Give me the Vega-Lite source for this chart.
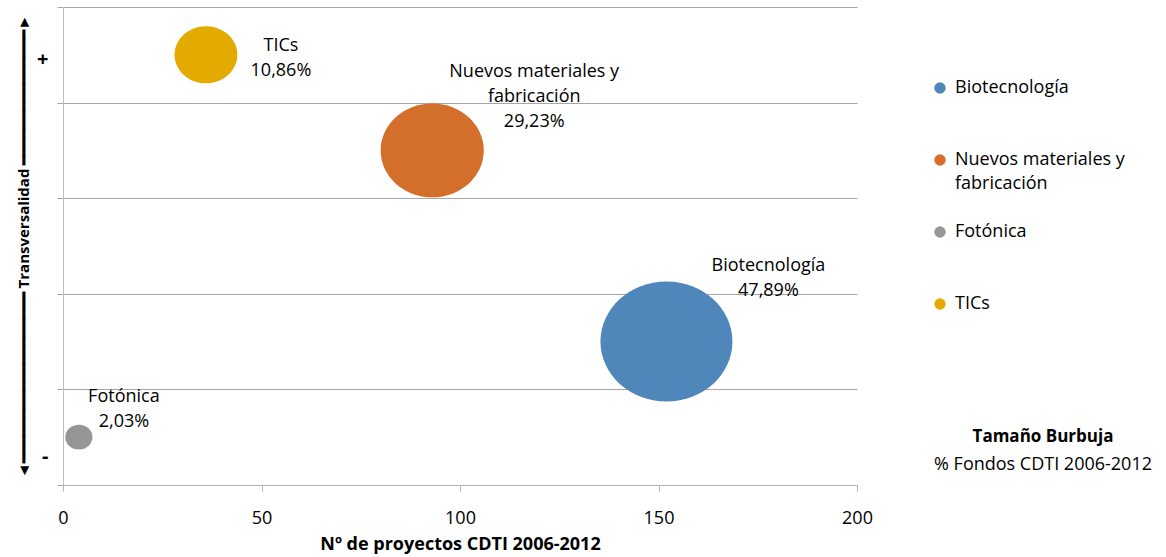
{
  "$schema": "https://vega.github.io/schema/vega-lite/v6.json",
  "width": 794,
  "height": 478,
  "autosize": {"type": "none"},
  "padding": {"left": 63, "top": 7, "right": 309, "bottom": 72},
  "background": "white",
  "config": {
    "view": {"stroke": null},
    "font": "Open Sans",
    "style": {"guide-label": {"lineHeight": 24}}
  },
  "title": {
    "text": "Tamaño Burbuja",
    "subtitle": "% Fondos CDTI 2006-2012",
    "orient": "top",
    "anchor": "end",
    "frame": "group",
    "align": "center",
    "dx": 186,
    "dy": 482,
    "font": "Open Sans",
    "fontSize": 17,
    "fontWeight": "bold",
    "color": "#000000",
    "subtitleFont": "Open Sans",
    "subtitleFontSize": 18,
    "subtitleColor": "#000000",
    "subtitlePadding": 10
  },
  "data": {
    "values": [
      {"area": "Biotecnología", "proyectos": 152, "transversalidad": 1.5, "fondos": 47.89},
      {"area": "Nuevos materiales y fabricación", "proyectos": 93, "transversalidad": 3.5, "fondos": 29.23},
      {"area": "Fotónica", "proyectos": 4, "transversalidad": 0.5, "fondos": 2.03},
      {"area": "TICs", "proyectos": 36, "transversalidad": 4.5, "fondos": 10.86}
    ]
  },
  "transform": [
    {"calculate": "replace(datum.area, ' y ', ' y\\n') + '\\n' + replace(format(datum.fondos, '.2f'), '.', ',') + '%'", "as": "etiqueta"}
  ],
  "encoding": {
    "x": {
      "field": "proyectos",
      "type": "quantitative",
      "scale": {"domain": [0, 200], "nice": false},
      "axis": {
        "values": [0, 50, 100, 150, 200],
        "grid": false,
        "domainColor": "#b3b3b3",
        "tickColor": "#b3b3b3",
        "tickSize": 6,
        "labelFlush": false,
        "labelFont": "Open Sans",
        "labelFontSize": 18,
        "labelColor": "#000000",
        "labelPadding": 18,
        "title": "Nº de proyectos CDTI 2006-2012",
        "titleFont": "Open Sans",
        "titleFontSize": 18,
        "titleFontWeight": "bold",
        "titleColor": "#000000",
        "titlePadding": 8
      }
    },
    "y": {
      "field": "transversalidad",
      "type": "quantitative",
      "scale": {"domain": [0, 5], "nice": false},
      "axis": {
        "values": [0, 0.3, 1, 2, 3, 4, 4.45, 5],
        "grid": true,
        "gridColor": "#a6a6a6",
        "gridOpacity": {"condition": {"test": "datum.value % 1 != 0", "value": 0}, "value": 1},
        "tickOpacity": {"condition": {"test": "datum.value % 1 != 0", "value": 0}, "value": 1},
        "domainColor": "#bfbfbf",
        "tickColor": "#a6a6a6",
        "tickSize": 6,
        "labelExpr": "datum.value == 4.45 ? '+' : (datum.value == 0.3 ? '-' : '')",
        "labelOverlap": false,
        "labelFont": "Open Sans",
        "labelFontSize": 20,
        "labelFontWeight": "bold",
        "labelColor": "#000000",
        "labelPadding": 9,
        "title": "◄━━━━━━━━━━━━━━━━━━━ Transversalidad ━━━━━━━━━━━━━━━►",
        "titleFont": "Open Sans",
        "titleFontSize": 15,
        "titleFontWeight": "bold",
        "titleColor": "#000000",
        "titlePadding": 5
      }
    }
  },
  "layer": [
    {
      "mark": {
        "type": "point",
        "filled": true,
        "opacity": 1,
        "strokeWidth": 0,
        "shape": "M-1.1,0A1.1,1 0 1,1 1.1,0A1.1,1 0 1,1 -1.1,0Z"
      },
      "encoding": {
        "size": {
          "field": "fondos",
          "type": "quantitative",
          "scale": {"type": "linear", "domain": [0, 50], "range": [0, 15035]},
          "legend": null
        },
        "color": {
          "field": "area",
          "type": "nominal",
          "scale": {
            "domain": ["Biotecnología", "Nuevos materiales y fabricación", "Fotónica", "TICs"],
            "range": ["#4f87bb", "#d36e2b", "#969696", "#e3aa00"]
          },
          "legend": {
            "orient": "none",
            "legendX": 868,
            "legendY": 72,
            "title": null,
            "symbolType": "circle",
            "symbolSize": 130,
            "symbolOpacity": 1,
            "symbolStrokeWidth": 0,
            "labelFont": "Open Sans",
            "labelFontSize": 18,
            "labelColor": "#000000",
            "labelLimit": 300,
            "labelOffset": 6,
            "gridAlign": "all",
            "rowPadding": 30,
            "labelExpr": "datum.label == 'Nuevos materiales y fabricación' ? ['Nuevos materiales y', 'fabricación'] : datum.label"
          }
        }
      }
    },
    {
      "transform": [{"filter": "datum.area == 'TICs'"}],
      "mark": {"type": "text", "dx": 75, "dy": -8.5, "align": "center", "baseline": "middle", "lineBreak": "\n", "lineHeight": 25, "font": "Open Sans", "fontSize": 18, "color": "#000000"},
      "encoding": {"text": {"field": "etiqueta"}}
    },
    {
      "transform": [{"filter": "datum.area == 'Nuevos materiales y fabricación'"}],
      "mark": {"type": "text", "dx": 102, "dy": -78, "align": "center", "baseline": "middle", "lineBreak": "\n", "lineHeight": 25, "font": "Open Sans", "fontSize": 18, "color": "#000000"},
      "encoding": {"text": {"field": "etiqueta"}}
    },
    {
      "transform": [{"filter": "datum.area == 'Biotecnología'"}],
      "mark": {"type": "text", "dx": 102, "dy": -75.5, "align": "center", "baseline": "middle", "lineBreak": "\n", "lineHeight": 25, "font": "Open Sans", "fontSize": 18, "color": "#000000"},
      "encoding": {"text": {"field": "etiqueta"}}
    },
    {
      "transform": [{"filter": "datum.area == 'Fotónica'"}],
      "mark": {"type": "text", "dx": 45, "dy": -40.5, "align": "center", "baseline": "middle", "lineBreak": "\n", "lineHeight": 25, "font": "Open Sans", "fontSize": 18, "color": "#000000"},
      "encoding": {"text": {"field": "etiqueta"}}
    }
  ]
}
